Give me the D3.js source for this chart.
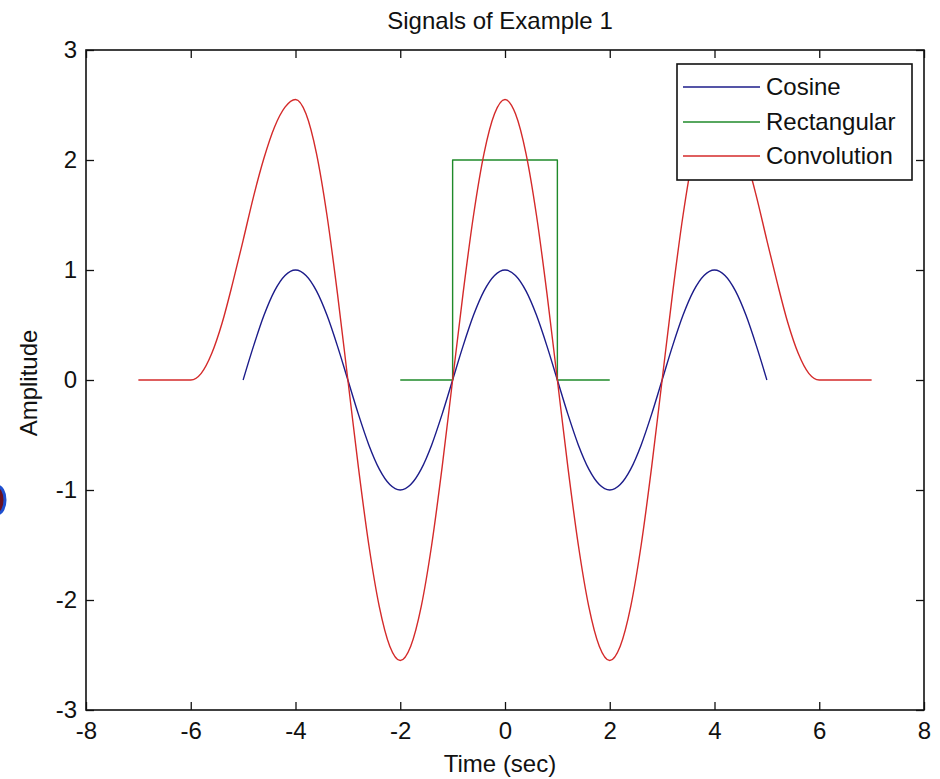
<!DOCTYPE html>
<html>
<head>
<meta charset="utf-8">
<script src="https://cdn.jsdelivr.net/npm/d3@7"></script>
<style>
  html, body { margin: 0; padding: 0; background: #fff; }
  svg { display: block; }
  text { font-family: "Liberation Sans", Arial, sans-serif; fill: #111; }
</style>
</head>
<body>
<svg id="chart" width="940" height="779"></svg>
<script>
// Sampled signals (time in seconds, amplitude)
const cosineT = [-5,-4.8,-4.6,-4.4,-4.2,-4,-3.8,-3.6,-3.4,-3.2,-3,-2.8,-2.6,-2.4,-2.2,-2,-1.8,-1.6,-1.4,-1.2,-1,-0.8,-0.6,-0.4,-0.2,0,
                 0.2,0.4,0.6,0.8,1,1.2,1.4,1.6,1.8,2,2.2,2.4,2.6,2.8,3,3.2,3.4,3.6,3.8,4,4.2,4.4,4.6,4.8,5];
const cosineY = [0,0.31,0.59,0.81,0.95,1,0.95,0.81,0.59,0.31,0,-0.31,-0.59,-0.81,-0.95,-1,-0.95,-0.81,-0.59,-0.31,0,0.31,0.59,0.81,0.95,1,
                 0.95,0.81,0.59,0.31,0,-0.31,-0.59,-0.81,-0.95,-1,-0.95,-0.81,-0.59,-0.31,0,0.31,0.59,0.81,0.95,1,0.95,0.81,0.59,0.31,0];

const rectT = [-2,-1,-1,1,1,2];
const rectY = [0,0,2,2,0,0];

const convT = [-7,-6.8,-6.6,-6.4,-6.2,-6,-5.8,-5.6,-5.4,-5.2,-5,-4.8,-4.6,-4.4,-4.2,-4,-3.8,-3.6,-3.4,-3.2,-3,-2.8,-2.6,-2.4,-2.2,-2,
               -1.8,-1.6,-1.4,-1.2,-1,-0.8,-0.6,-0.4,-0.2,0,0.2,0.4,0.6,0.8,1,1.2,1.4,1.6,1.8,2,2.2,2.4,2.6,2.8,3,3.2,3.4,3.6,3.8,4,
               4.2,4.4,4.6,4.8,5,5.2,5.4,5.6,5.8,6,6.2,6.4,6.6,6.8,7];
const convY = [0,0,0,0,0,0,0.06,0.24,0.52,0.88,1.27,1.67,2.02,2.30,2.48,2.55,2.42,2.06,1.50,0.79,0,-0.79,-1.50,-2.06,-2.42,-2.55,
               -2.42,-2.06,-1.50,-0.79,0,0.79,1.50,2.06,2.42,2.55,2.42,2.06,1.50,0.79,0,-0.79,-1.50,-2.06,-2.42,-2.55,-2.42,-2.06,-1.50,-0.79,0,0.79,1.50,2.06,2.42,2.55,
               2.48,2.30,2.02,1.67,1.27,0.88,0.52,0.24,0.06,0,0,0,0,0,0];

const xTicks = [-8,-6,-4,-2,0,2,4,6,8];
const yTicks = [-3,-2,-1,0,1,2,3];

const seriesNames = ["Cosine", "Rectangular", "Convolution"];
const seriesColors = ["#1c1c8a", "#1f8a2a", "#d42a2a"];

const svg = d3.select("#chart");
const plotL = 86, plotR = 924, plotT = 50, plotB = 710;

const x = d3.scaleLinear().domain([-8, 8]).range([plotL, plotR]);
const y = d3.scaleLinear().domain([-3, 3]).range([plotB, plotT]);

const fontSize = 24;
const tickLen = 8;
const fmt = d => String(d);

// Data lines: smooth signals through their samples, the pulse as straight segments
const smoothLine = d3.line().x(d => x(d[0])).y(d => y(d[1])).curve(d3.curveMonotoneX);
const straightLine = d3.line().x(d => x(d[0])).y(d => y(d[1]));
const series = [
  { pts: d3.zip(cosineT, cosineY), gen: smoothLine },
  { pts: d3.zip(rectT, rectY), gen: straightLine },
  { pts: d3.zip(convT, convY), gen: smoothLine }
];
series.forEach((s, i) => {
  svg.append("path")
    .datum(s.pts)
    .attr("d", s.gen)
    .attr("fill", "none")
    .attr("stroke", seriesColors[i])
    .attr("stroke-width", 1.4)
    .attr("stroke-linejoin", "round");
});

// Axes: bottom / left with labels, top / right mirrored ticks only
const axisStyle = g => {
  g.select(".domain").remove();
  g.selectAll(".tick line").attr("stroke", "#111").attr("stroke-width", 1.3);
  g.selectAll(".tick text")
    .style("font-family", "'Liberation Sans', Arial, sans-serif")
    .style("font-size", fontSize + "px")
    .attr("fill", "#111");
};

svg.append("g")
  .attr("transform", `translate(0,${plotB})`)
  .call(d3.axisBottom(x).tickValues(xTicks).tickSizeInner(-tickLen).tickSizeOuter(0).tickPadding(12).tickFormat(fmt))
  .call(axisStyle);

svg.append("g")
  .attr("transform", `translate(0,${plotT})`)
  .call(d3.axisTop(x).tickValues(xTicks).tickSizeInner(-tickLen).tickSizeOuter(0).tickFormat(""))
  .call(axisStyle);

svg.append("g")
  .attr("transform", `translate(${plotL},0)`)
  .call(d3.axisLeft(y).tickValues(yTicks).tickSizeInner(-tickLen).tickSizeOuter(0).tickPadding(9).tickFormat(fmt))
  .call(axisStyle);

svg.append("g")
  .attr("transform", `translate(${plotR},0)`)
  .call(d3.axisRight(y).tickValues(yTicks).tickSizeInner(-tickLen).tickSizeOuter(0).tickFormat(""))
  .call(axisStyle);

// Axes box
svg.append("rect")
  .attr("x", plotL).attr("y", plotT)
  .attr("width", plotR - plotL).attr("height", plotB - plotT)
  .attr("fill", "none").attr("stroke", "#111").attr("stroke-width", 1.6);

// Title and axis labels
svg.append("text")
  .attr("x", 500).attr("y", 29)
  .attr("text-anchor", "middle")
  .style("font-size", fontSize + "px")
  .text("Signals of Example 1");

svg.append("text")
  .attr("x", 500).attr("y", 772)
  .attr("text-anchor", "middle")
  .style("font-size", fontSize + "px")
  .text("Time (sec)");

svg.append("text")
  .attr("transform", "translate(37,383) rotate(-90)")
  .attr("text-anchor", "middle")
  .style("font-size", fontSize + "px")
  .text("Amplitude");

// Legend
const lg = svg.append("g");
lg.append("rect")
  .attr("x", 677).attr("y", 64)
  .attr("width", 235).attr("height", 116)
  .attr("fill", "#fff").attr("stroke", "#111").attr("stroke-width", 1.6);
const rowY = [87, 122, 156];
seriesNames.forEach((name, i) => {
  lg.append("line")
    .attr("x1", 683).attr("x2", 760)
    .attr("y1", rowY[i]).attr("y2", rowY[i])
    .attr("stroke", seriesColors[i]).attr("stroke-width", 1.4);
  lg.append("text")
    .attr("x", 766).attr("y", rowY[i])
    .attr("dy", "0.35em")
    .style("font-size", fontSize + "px")
    .text(name);
});

// Small blue mark at the left edge of the figure
svg.append("ellipse")
  .attr("cx", -3).attr("cy", 500)
  .attr("rx", 8).attr("ry", 14)
  .attr("fill", "#6a1020").attr("stroke", "#1e4fd0").attr("stroke-width", 3);
</script>
</body>
</html>
